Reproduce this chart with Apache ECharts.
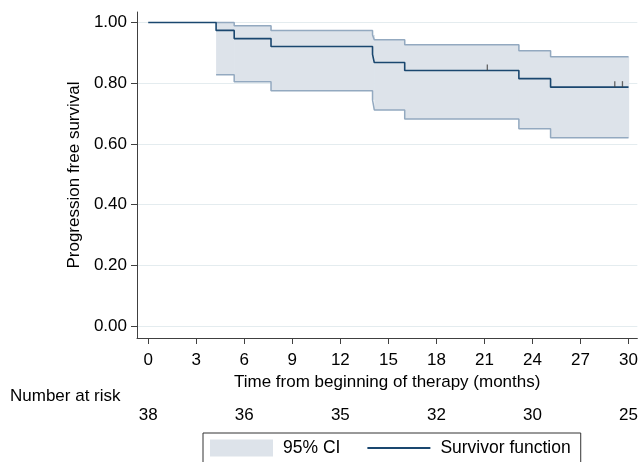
<!DOCTYPE html>
<html>
<head>
<meta charset="utf-8">
<script src="https://cdn.jsdelivr.net/npm/echarts@6/dist/echarts.min.js"></script>
<style>
  html, body { margin: 0; padding: 0; background: #fff; }
  #chart { width: 641px; height: 462px; }
</style>
</head>
<body>
<div id="chart"></div>
<script>
// Kaplan-Meier estimate (months, survival)
const eventTimes = [0, 4.24, 5.37, 7.67, 14.01, 14.12, 16.02, 23.15, 25.13, 30];
const survival   = [1, 0.974, 0.947, 0.921, 0.895, 0.868, 0.842, 0.815, 0.787, 0.787];

// 95% confidence band
const ciTimes = [4.24, 5.37, 7.67, 14.01, 14.12, 16.02, 23.15, 25.13, 30];
const ciUpper = [1.0, 0.989, 0.974, 0.959, 0.943, 0.927, 0.907, 0.887, 0.887];
const ciLower = [0.828, 0.805, 0.775, 0.745, 0.712, 0.682, 0.650, 0.620, 0.620];

// censored observations
const censorTimes = [21.18, 29.14, 29.62];
const censorSurv  = [0.842, 0.787, 0.787];

// axes ticks
const xTicks = [0, 3, 6, 9, 12, 15, 18, 21, 24, 27, 30];
const yTicks = [0, 0.2, 0.4, 0.6, 0.8, 1.0];

// number at risk table
const riskTimes = [0, 6, 12, 18, 24, 30];
const atRisk    = [38, 36, 35, 32, 30, 25];

const FONT = '"Liberation Sans", Arial, sans-serif';
const BAND = '#dde3ea';
const EDGE = '#93a9c0';
const NAVY = '#1a476f';
const AXIS = '#404040';

const chart = echarts.init(document.getElementById('chart'));

const pairs = (xs, ys) => xs.map((x, i) => [x, ys[i]]);
// one block per step of the band: [from, to, lower, upper]
const bandBlocks = ciTimes.slice(0, -1).map((t, i) => [t, ciTimes[i + 1], ciLower[i], ciUpper[i]]);

const xMin = -0.70, xMax = 30.55;

function renderBand(params, api) {
  const topLeft = api.coord([api.value(0), api.value(3)]);
  const bottomRight = api.coord([api.value(1), api.value(2)]);
  return {
    type: 'rect',
    shape: {
      x: topLeft[0],
      y: topLeft[1],
      width: bottomRight[0] - topLeft[0] + 0.6,
      height: bottomRight[1] - topLeft[1]
    },
    style: { fill: BAND }
  };
}

const option = {
  animation: false,
  backgroundColor: '#fff',
  textStyle: { fontFamily: FONT },
  title: {
    text: 'Number at risk',
    left: 10,
    top: 388,
    padding: 0,
    textStyle: { fontFamily: FONT, fontSize: 17, fontWeight: 'normal', color: '#000' }
  },
  legend: {
    left: 203,
    top: 433,
    padding: [6, 10, 10, 7],
    itemGap: 26,
    itemWidth: 63,
    itemHeight: 17,
    borderColor: '#333',
    borderWidth: 1,
    textStyle: { fontFamily: FONT, fontSize: 17.5, color: '#000', padding: [0, 0, 0, 5] },
    data: [
      { name: '95% CI', icon: 'rect', itemStyle: { color: BAND } },
      { name: 'Survivor function', itemStyle: { opacity: 0 } }
    ]
  },
  grid: [
    { left: 137, right: 0, top: 12, bottom: 124 },
    { left: 137, right: 0, top: 398, height: 1 }
  ],
  xAxis: [
    {
      type: 'value', gridIndex: 0, min: xMin, max: xMax,
      name: 'Time from beginning of therapy (months)',
      nameLocation: 'middle', nameGap: 29,
      nameTextStyle: { fontFamily: FONT, fontSize: 17, color: '#000' },
      axisLine: { show: true, onZero: false, lineStyle: { color: AXIS, width: 1 } },
      axisTick: { show: true, length: 6, customValues: xTicks, lineStyle: { color: AXIS } },
      axisLabel: { customValues: xTicks, margin: 14, fontFamily: FONT, fontSize: 17, color: '#000' },
      splitLine: { show: false }
    },
    {
      type: 'value', gridIndex: 1, min: xMin, max: xMax,
      axisLine: { show: false },
      axisTick: { show: false },
      axisLabel: {
        customValues: riskTimes, margin: 8, fontFamily: FONT, fontSize: 17, color: '#000',
        formatter: v => String(atRisk[riskTimes.indexOf(v)])
      },
      splitLine: { show: false }
    }
  ],
  yAxis: [
    {
      type: 'value', gridIndex: 0, min: -0.0395, max: 1.0346,
      name: 'Progression free survival',
      nameLocation: 'middle', nameGap: 53,
      nameTextStyle: { fontFamily: FONT, fontSize: 17, color: '#000' },
      axisLine: { show: true, onZero: false, lineStyle: { color: AXIS, width: 1 } },
      axisTick: { show: true, length: 6, customValues: yTicks, lineStyle: { color: AXIS } },
      axisLabel: {
        customValues: yTicks, margin: 10, fontFamily: FONT, fontSize: 17, color: '#000',
        formatter: v => v.toFixed(2)
      },
      splitLine: { show: true, lineStyle: { color: '#e4ecef', width: 1 } }
    },
    {
      type: 'value', gridIndex: 1, min: 0, max: 1, show: false
    }
  ],
  series: [
    {
      name: '95% CI', type: 'custom',
      renderItem: renderBand,
      data: bandBlocks,
      encode: { x: [0, 1], y: [2, 3] },
      itemStyle: { color: BAND },
      silent: true, z: 1
    },
    {
      name: 'upper', type: 'line', step: 'end',
      data: pairs(ciTimes, ciUpper),
      showSymbol: false, symbol: 'none',
      lineStyle: { color: EDGE, width: 1.5 }, z: 2
    },
    {
      name: 'lower', type: 'line', step: 'end',
      data: pairs(ciTimes, ciLower),
      showSymbol: false, symbol: 'none',
      lineStyle: { color: EDGE, width: 1.5 }, z: 2
    },
    {
      name: 'Survivor function', type: 'line', step: 'end',
      data: pairs(eventTimes, survival),
      showSymbol: false, symbol: 'none',
      itemStyle: { color: NAVY },
      lineStyle: { color: NAVY, width: 1.6 }, z: 3
    },
    {
      name: 'censored', type: 'scatter',
      data: pairs(censorTimes, censorSurv),
      symbol: 'rect', symbolSize: [1.3, 6], symbolOffset: [0, -3],
      itemStyle: { color: '#444' }, z: 4, silent: true
    }
  ]
};

chart.setOption(option);
</script>
</body>
</html>
